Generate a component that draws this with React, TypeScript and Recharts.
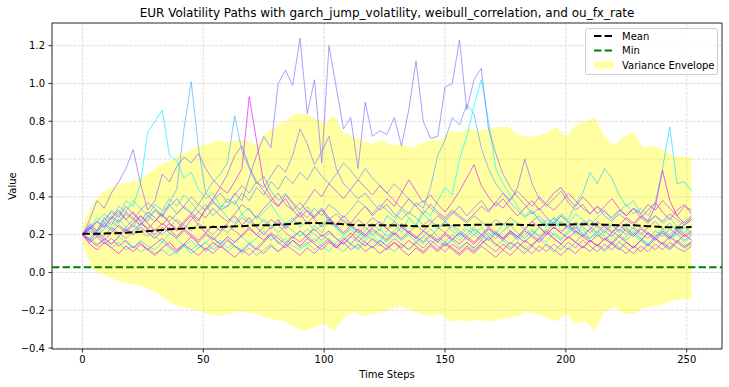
import React from 'react';
import {
  ComposedChart,
  Line,
  Area,
  XAxis,
  YAxis,
  CartesianGrid,
  ReferenceLine,
  ReferenceArea,
} from 'recharts';

// ---- axis ticks ----
const xTicks = [0, 50, 100, 150, 200, 250];
const yTicks = [-0.4, -0.2, 0, 0.2, 0.4, 0.6, 0.8, 1.0, 1.2];

// ---- simulated paths (sampled every 3 time steps, t = 0..252) ----
const path0 = [
  0.20,0.23,0.19,0.25,0.22,0.28,0.24,0.20,0.26,0.23,
  0.19,0.16,0.21,0.18,0.14,0.17,0.13,0.16,0.19,0.15,
  0.18,0.14,0.12,0.16,0.13,0.17,0.20,0.15,0.18,0.14,
  0.12,0.15,0.18,0.14,0.11,0.16,0.19,0.15,0.13,0.17,
  0.20,0.16,0.22,0.26,0.21,0.29,0.25,0.33,0.30,0.38,
  0.45,0.41,0.60,0.72,0.88,1.02,0.80,0.55,0.47,0.41,
  0.35,0.30,0.33,0.27,0.24,0.29,0.22,0.25,0.20,0.23,
  0.18,0.21,0.17,0.20,0.16,0.19,0.22,0.18,0.15,0.19,
  0.21,0.17,0.20,0.16,0.19,
];
const path1 = [
  0.20,0.24,0.29,0.26,0.33,0.30,0.38,0.35,0.47,0.74,
  0.80,0.86,0.62,0.59,0.50,0.53,0.44,0.39,0.42,0.35,
  0.35,0.38,0.31,0.34,0.28,0.32,0.36,0.30,0.26,0.29,
  0.24,0.27,0.22,0.25,0.29,0.23,0.20,0.24,0.21,0.18,
  0.22,0.19,0.16,0.20,0.17,0.21,0.18,0.15,0.19,0.16,
  0.14,0.18,0.21,0.17,0.20,0.24,0.19,0.22,0.18,0.21,
  0.17,0.20,0.23,0.19,0.16,0.21,0.18,0.22,0.25,0.20,
  0.23,0.19,0.22,0.26,0.21,0.24,0.20,0.17,0.21,0.19,
  0.23,0.20,0.24,0.21,0.25,
];
const path2 = [
  0.20,0.17,0.21,0.18,0.15,0.19,0.16,0.13,0.17,0.14,
  0.12,0.16,0.13,0.10,0.14,0.12,0.15,0.11,0.14,0.17,
  0.13,0.16,0.19,0.15,0.18,0.22,0.17,0.20,0.16,0.19,
  0.22,0.18,0.25,0.21,0.28,0.24,0.20,0.23,0.19,0.22,
  0.26,0.22,0.30,0.27,0.33,0.29,0.25,0.31,0.27,0.23,
  0.27,0.24,0.20,0.25,0.22,0.18,0.23,0.20,0.26,0.22,
  0.19,0.23,0.20,0.24,0.28,0.25,0.30,0.26,0.31,0.28,
  0.25,0.29,0.33,0.28,0.32,0.36,0.31,0.34,0.30,0.37,
  0.55,0.77,0.47,0.48,0.43,
];
const path3 = [
  0.20,0.23,0.27,0.31,0.28,0.35,0.32,0.38,0.34,0.30,
  0.36,0.33,0.39,0.35,0.41,0.37,0.32,0.36,0.30,0.34,
  0.29,0.26,0.31,0.27,0.24,0.28,0.25,0.21,0.25,0.22,
  0.19,0.23,0.20,0.17,0.21,0.18,0.15,0.19,0.16,0.20,
  0.17,0.14,0.18,0.21,0.17,0.20,0.16,0.19,0.23,0.19,
  0.16,0.20,0.17,0.21,0.24,0.20,0.17,0.21,0.18,0.15,
  0.19,0.16,0.20,0.24,0.21,0.27,0.31,0.28,0.36,0.42,
  0.53,0.47,0.55,0.50,0.41,0.35,0.38,0.31,0.27,0.30,
  0.26,0.29,0.24,0.27,0.30,
];
const path4 = [
  0.20,0.18,0.15,0.17,0.13,0.16,0.12,0.14,0.11,0.13,
  0.10,0.12,0.09,0.11,0.14,0.10,0.13,0.16,0.12,0.15,
  0.11,0.14,0.10,0.13,0.09,0.12,0.15,0.11,0.14,0.17,
  0.13,0.16,0.12,0.15,0.18,0.14,0.11,0.15,0.12,0.16,
  0.13,0.17,0.14,0.11,0.15,0.12,0.16,0.19,0.15,0.18,
  0.14,0.17,0.13,0.16,0.12,0.15,0.18,0.14,0.17,0.13,
  0.16,0.12,0.15,0.18,0.14,0.11,0.15,0.12,0.16,0.13,
  0.17,0.14,0.11,0.15,0.12,0.16,0.13,0.17,0.14,0.18,
  0.15,0.12,0.16,0.13,0.15,
];
const path5 = [
  0.20,0.26,0.22,0.29,0.25,0.32,0.28,0.24,0.30,0.27,
  0.33,0.29,0.37,0.44,0.76,1.01,0.66,0.42,0.48,0.52,
  0.58,0.83,0.64,0.55,0.47,0.51,0.43,0.38,0.42,0.36,
  0.31,0.35,0.29,0.33,0.27,0.24,0.28,0.25,0.21,0.24,
  0.20,0.23,0.19,0.22,0.26,0.21,0.18,0.22,0.19,0.23,
  0.27,0.22,0.19,0.23,0.20,0.17,0.21,0.18,0.22,0.25,
  0.21,0.18,0.22,0.19,0.23,0.20,0.17,0.21,0.24,0.20,
  0.18,0.22,0.19,0.16,0.20,0.17,0.21,0.18,0.15,0.19,
  0.22,0.18,0.21,0.17,0.20,
];
const path6 = [
  0.20,0.22,0.19,0.23,0.27,0.24,0.21,0.25,0.22,0.19,
  0.23,0.20,0.24,0.28,0.25,0.22,0.26,0.23,0.20,0.24,
  0.21,0.25,0.29,0.26,0.30,0.27,0.23,0.27,0.24,0.28,
  0.32,0.29,0.34,0.30,0.36,0.33,0.29,0.33,0.38,0.35,
  0.31,0.36,0.33,0.29,0.34,0.31,0.37,0.34,0.45,0.62,
  0.70,0.82,0.78,0.89,0.84,0.66,0.55,0.47,0.42,0.37,
  0.33,0.29,0.32,0.28,0.25,0.29,0.26,0.23,0.27,0.24,
  0.21,0.25,0.22,0.19,0.23,0.20,0.24,0.21,0.18,0.22,
  0.19,0.23,0.20,0.24,0.21,
];
const path7 = [
  0.20,0.18,0.22,0.26,0.23,0.20,0.24,0.28,0.25,0.29,
  0.33,0.30,0.27,0.31,0.35,0.32,0.28,0.33,0.37,0.34,
  0.39,0.36,0.42,0.38,0.45,0.41,0.48,0.44,0.51,0.47,
  0.53,0.49,0.56,0.51,0.47,0.52,0.58,0.54,0.49,0.55,
  0.50,0.46,0.42,0.47,0.43,0.39,0.35,0.38,0.34,0.31,
  0.28,0.32,0.29,0.26,0.30,0.27,0.24,0.28,0.25,0.29,
  0.26,0.23,0.27,0.30,0.26,0.23,0.27,0.24,0.21,0.25,
  0.28,0.24,0.21,0.25,0.22,0.26,0.23,0.20,0.24,0.27,
  0.23,0.26,0.22,0.25,0.28,
];
const path8 = [
  0.20,0.24,0.21,0.26,0.30,0.27,0.32,0.29,0.25,0.30,
  0.27,0.32,0.36,0.31,0.35,0.40,0.36,0.33,0.38,0.42,
  0.37,0.41,0.46,0.42,0.48,0.45,0.51,0.57,0.53,0.62,
  0.76,0.68,0.57,0.64,0.72,0.55,0.47,0.43,0.39,0.42,
  0.37,0.33,0.36,0.31,0.28,0.32,0.29,0.25,0.28,0.24,
  0.21,0.25,0.22,0.19,0.23,0.20,0.17,0.21,0.18,0.22,
  0.19,0.16,0.20,0.17,0.21,0.18,0.15,0.19,0.16,0.20,
  0.17,0.14,0.18,0.15,0.12,0.16,0.13,0.17,0.14,0.18,
  0.15,0.12,0.16,0.13,0.16,
];
const path9 = [
  0.20,0.23,0.27,0.24,0.29,0.26,0.31,0.28,0.33,0.37,
  0.34,0.30,0.35,0.39,0.34,0.31,0.36,0.42,0.38,0.33,
  0.35,0.42,0.38,0.50,0.62,0.72,0.66,1.00,1.07,0.99,
  1.24,0.84,1.02,0.58,1.20,0.98,0.76,0.82,0.55,0.90,
  0.72,0.75,0.73,0.82,0.67,0.86,1.12,0.80,0.71,0.72,
  0.98,1.00,1.23,0.86,1.02,1.08,0.76,0.63,0.52,0.45,
  0.40,0.36,0.31,0.34,0.29,0.26,0.30,0.27,0.23,0.27,
  0.24,0.21,0.25,0.22,0.19,0.23,0.20,0.24,0.21,0.18,
  0.22,0.19,0.23,0.20,0.22,
];
const path10 = [
  0.20,0.28,0.38,0.34,0.42,0.48,0.55,0.65,0.47,0.33,
  0.38,0.52,0.48,0.56,0.61,0.58,0.63,0.55,0.49,0.45,
  0.52,0.62,0.67,0.56,0.48,0.43,0.38,0.42,0.36,0.33,
  0.37,0.32,0.29,0.33,0.28,0.31,0.27,0.24,0.28,0.25,
  0.29,0.26,0.23,0.27,0.24,0.21,0.25,0.22,0.26,0.30,
  0.27,0.31,0.35,0.30,0.34,0.38,0.33,0.37,0.42,0.38,
  0.45,0.60,0.47,0.39,0.35,0.39,0.43,0.37,0.33,0.36,
  0.31,0.35,0.30,0.27,0.31,0.28,0.25,0.29,0.26,0.30,
  0.27,0.31,0.28,0.25,0.28,
];
const path11 = [
  0.20,0.17,0.21,0.19,0.24,0.21,0.18,0.22,0.26,0.23,
  0.20,0.24,0.21,0.18,0.22,0.19,0.16,0.20,0.17,0.21,
  0.25,0.22,0.19,0.23,0.20,0.24,0.28,0.25,0.21,0.18,
  0.22,0.19,0.16,0.20,0.17,0.14,0.18,0.15,0.19,0.16,
  0.13,0.17,0.14,0.18,0.15,0.12,0.16,0.13,0.17,0.14,
  0.11,0.15,0.12,0.16,0.13,0.17,0.14,0.11,0.15,0.12,
  0.16,0.13,0.10,0.14,0.11,0.15,0.12,0.16,0.13,0.17,
  0.14,0.11,0.15,0.12,0.16,0.13,0.10,0.14,0.11,0.15,
  0.12,0.16,0.13,0.11,0.14,
];
const path12 = [
  0.20,0.25,0.22,0.28,0.32,0.29,0.35,0.31,0.27,0.32,
  0.29,0.25,0.30,0.27,0.23,0.28,0.32,0.29,0.34,0.30,
  0.27,0.31,0.36,0.33,0.29,0.34,0.38,0.35,0.41,0.37,
  0.33,0.38,0.44,0.40,0.47,0.43,0.39,0.44,0.49,0.45,
  0.41,0.46,0.42,0.38,0.34,0.39,0.35,0.31,0.36,0.32,
  0.29,0.33,0.30,0.27,0.31,0.35,0.32,0.37,0.34,0.39,
  0.43,0.39,0.35,0.40,0.36,0.33,0.37,0.42,0.38,0.34,
  0.31,0.35,0.32,0.29,0.33,0.30,0.34,0.31,0.36,0.33,
  0.38,0.34,0.30,0.35,0.33,
];
const path13 = [
  0.20,0.16,0.19,0.15,0.18,0.14,0.17,0.13,0.16,0.12,
  0.15,0.18,0.14,0.11,0.15,0.12,0.09,0.13,0.10,0.14,
  0.11,0.08,0.12,0.09,0.13,0.10,0.14,0.11,0.15,0.12,
  0.09,0.13,0.10,0.14,0.17,0.13,0.16,0.12,0.15,0.11,
  0.14,0.10,0.13,0.16,0.12,0.09,0.13,0.10,0.14,0.11,
  0.15,0.12,0.09,0.13,0.10,0.14,0.11,0.08,0.12,0.09,
  0.13,0.10,0.14,0.11,0.15,0.12,0.09,0.13,0.10,0.14,
  0.11,0.15,0.12,0.16,0.13,0.10,0.14,0.11,0.15,0.12,
  0.16,0.13,0.17,0.14,0.16,
];
const path14 = [
  0.20,0.23,0.27,0.24,0.29,0.33,0.28,0.32,0.27,0.23,
  0.27,0.31,0.26,0.22,0.26,0.30,0.25,0.21,0.25,0.22,
  0.26,0.30,0.25,0.29,0.24,0.20,0.24,0.28,0.23,0.27,
  0.31,0.26,0.30,0.34,0.29,0.25,0.30,0.26,0.31,0.35,
  0.30,0.34,0.39,0.35,0.42,0.49,0.43,0.37,0.41,0.36,
  0.32,0.37,0.43,0.50,0.57,0.46,0.40,0.35,0.39,0.34,
  0.30,0.34,0.38,0.33,0.37,0.42,0.45,0.39,0.35,0.40,
  0.36,0.31,0.35,0.39,0.34,0.30,0.34,0.29,0.33,0.37,
  0.32,0.28,0.33,0.36,0.31,
];
const path15 = [
  0.20,0.17,0.14,0.18,0.15,0.19,0.23,0.20,0.24,0.21,
  0.18,0.22,0.26,0.23,0.27,0.31,0.27,0.34,0.39,0.45,
  0.42,0.48,0.55,0.93,0.70,0.47,0.40,0.35,0.39,0.33,
  0.29,0.33,0.28,0.24,0.28,0.25,0.21,0.25,0.22,0.19,
  0.23,0.20,0.17,0.21,0.18,0.22,0.19,0.16,0.20,0.17,
  0.21,0.18,0.15,0.19,0.16,0.20,0.24,0.21,0.18,0.22,
  0.19,0.23,0.27,0.24,0.20,0.24,0.21,0.18,0.22,0.19,
  0.16,0.20,0.17,0.21,0.25,0.22,0.19,0.23,0.20,0.17,
  0.21,0.18,0.22,0.19,0.21,
];
const path16 = [
  0.20,0.24,0.20,0.17,0.21,0.25,0.22,0.26,0.30,0.26,
  0.22,0.26,0.23,0.19,0.23,0.20,0.17,0.21,0.18,0.15,
  0.19,0.16,0.20,0.24,0.20,0.17,0.21,0.18,0.15,0.19,
  0.16,0.20,0.23,0.19,0.22,0.18,0.15,0.19,0.23,0.20,
  0.24,0.27,0.23,0.20,0.24,0.21,0.18,0.22,0.19,0.16,
  0.20,0.17,0.21,0.18,0.15,0.19,0.23,0.20,0.17,0.21,
  0.18,0.22,0.19,0.16,0.20,0.24,0.21,0.25,0.22,0.19,
  0.23,0.27,0.24,0.21,0.25,0.29,0.26,0.30,0.27,0.35,
  0.54,0.38,0.30,0.26,0.29,
];
const path17 = [
  0.20,0.15,0.12,0.16,0.13,0.10,0.14,0.11,0.15,0.12,
  0.09,0.13,0.16,0.12,0.15,0.19,0.15,0.12,0.16,0.13,
  0.17,0.14,0.11,0.15,0.12,0.16,0.20,0.16,0.13,0.17,
  0.14,0.18,0.15,0.12,0.16,0.13,0.17,0.21,0.17,0.14,
  0.18,0.15,0.12,0.16,0.13,0.17,0.14,0.11,0.15,0.12,
  0.16,0.13,0.10,0.14,0.11,0.15,0.19,0.15,0.12,0.16,
  0.13,0.17,0.14,0.18,0.22,0.18,0.15,0.19,0.16,0.13,
  0.17,0.14,0.18,0.15,0.19,0.16,0.13,0.17,0.21,0.18,
  0.15,0.19,0.16,0.20,0.17,
];
const paths = [
  path0, path1, path2, path3, path4, path5, path6, path7, path8,
  path9, path10, path11, path12, path13, path14, path15, path16, path17,
];

// ---- variance envelope (every 4 steps, t = 0..252) ----
const envUpper = [
  0.25,0.36,0.42,0.45,0.47,0.48,0.50,0.53,
  0.57,0.59,0.62,0.64,0.67,0.68,0.70,0.69,
  0.70,0.70,0.67,0.74,0.77,0.80,0.84,0.84,
  0.82,0.79,0.83,0.74,0.72,0.70,0.68,0.70,
  0.67,0.68,0.66,0.68,0.70,0.70,0.75,0.74,
  0.76,0.75,0.76,0.77,0.77,0.73,0.72,0.72,
  0.74,0.77,0.72,0.78,0.80,0.82,0.72,0.67,
  0.72,0.74,0.66,0.67,0.65,0.62,0.61,0.61,
];
const envLower = [
  0.15,0.02,-0.01,-0.03,-0.05,-0.06,-0.07,-0.09,
  -0.12,-0.16,-0.18,-0.19,-0.20,-0.22,-0.23,-0.22,
  -0.21,-0.21,-0.22,-0.24,-0.25,-0.26,-0.29,-0.31,
  -0.29,-0.27,-0.31,-0.24,-0.21,-0.23,-0.22,-0.21,
  -0.19,-0.18,-0.20,-0.22,-0.23,-0.22,-0.26,-0.25,
  -0.26,-0.25,-0.26,-0.25,-0.24,-0.23,-0.21,-0.22,
  -0.24,-0.26,-0.22,-0.27,-0.26,-0.31,-0.21,-0.18,
  -0.22,-0.22,-0.19,-0.18,-0.17,-0.15,-0.14,-0.14,
];

// ---- mean path (every 6 steps) and minimum value ----
const meanValues = [
  0.205,0.205,0.207,0.21,0.215,0.222,0.228,0.232,0.238,0.24,
  0.242,0.245,0.25,0.25,0.255,0.26,0.262,0.26,0.255,0.25,
  0.25,0.25,0.248,0.245,0.245,0.25,0.25,0.252,0.252,0.255,
  0.253,0.25,0.252,0.253,0.255,0.255,0.253,0.25,0.25,0.245,
  0.24,0.238,0.24,
];
const minValue = 0.027;

// ---- derived tables ----
const pathData = paths.map((vals) => vals.map((v, k) => ({ t: k * 3, v })));
const envData = envUpper.map((u, k) => ({ t: k * 4, range: [envLower[k], u] }));
const meanData = meanValues.map((v, k) => ({ t: k * 6, v }));

const coolColor = (i: number, n: number) => {
  const f = i / (n - 1);
  return `rgb(${Math.round(255 * f)},${Math.round(255 * (1 - f))},255)`;
};

const fmtY = (v: number) => (v < 0 ? '\u2212' + Math.abs(v).toFixed(1) : v.toFixed(1));

const FONT = 'DejaVu Sans, sans-serif';

export default function App() {
  return (
    <div style={{ position: 'absolute', left: 0, top: 0, width: 729, height: 387, background: '#fff', fontFamily: FONT }}>
      <ComposedChart width={729} height={387} margin={{ top: 23, right: 7, bottom: 0, left: 0 }}>
        <CartesianGrid stroke="#d4d4d4" strokeDasharray="3 1.3" strokeWidth={0.8} />
        <XAxis
          dataKey="t"
          type="number"
          domain={[-12.6, 264.6]}
          ticks={xTicks}
          allowDataOverflow
          height={38}
          tickSize={3.5}
          tickMargin={3.5}
          interval={0}
          axisLine={false}
          tickLine={{ stroke: '#000', strokeWidth: 0.8 }}
          tick={{ fontSize: 10, fill: '#000', fontFamily: FONT }}
        />
        <YAxis
          type="number"
          domain={[-0.405, 1.32]}
          ticks={yTicks}
          allowDataOverflow
          width={52}
          tickSize={3.5}
          tickMargin={3.5}
          interval={0}
          axisLine={false}
          tickLine={{ stroke: '#000', strokeWidth: 0.8 }}
          tick={{ fontSize: 10, fill: '#000', fontFamily: FONT }}
          tickFormatter={fmtY}
        />
        <Area
          data={envData}
          dataKey="range"
          type="linear"
          stroke="none"
          fill="#ffff00"
          fillOpacity={0.37}
          isAnimationActive={false}
        />
        {pathData.map((d, i) => (
          <Line
            key={i}
            data={d}
            dataKey="v"
            type="linear"
            dot={false}
            stroke={coolColor(i, paths.length)}
            strokeOpacity={0.7}
            strokeWidth={1}
            isAnimationActive={false}
          />
        ))}
        <Line
          data={meanData}
          dataKey="v"
          type="linear"
          dot={false}
          stroke="#000"
          strokeWidth={2}
          strokeDasharray="7.4 3.2"
          isAnimationActive={false}
        />
        <ReferenceLine y={minValue} stroke="#008000" strokeWidth={2} strokeDasharray="7.4 3.2" />
        <ReferenceArea x1={-12.6} x2={264.6} y1={-0.405} y2={1.32} fill="none" stroke="#000" strokeWidth={0.8} ifOverflow="visible" />
      </ComposedChart>
      <svg
        width={729}
        height={387}
        style={{ position: 'absolute', left: 0, top: 0, pointerEvents: 'none' }}
        fontFamily={FONT}
      >
        <text x={387} y={17} textAnchor="middle" fontSize={12} fill="#000">
          EUR Volatility Paths with garch_jump_volatility, weibull_correlation, and ou_fx_rate
        </text>
        <text x={387} y={378} textAnchor="middle" fontSize={10} fill="#000">
          Time Steps
        </text>
        <text transform="translate(16,186) rotate(-90)" textAnchor="middle" fontSize={10} fill="#000">
          Value
        </text>
        <rect x={585.5} y={28.5} width={132} height={46} rx={2} fill="#fff" fillOpacity={0.8} stroke="#cccccc" strokeWidth={1} />
        <line x1={594} x2={614} y1={36} y2={36} stroke="#000" strokeWidth={2} strokeDasharray="7.4 3.2" />
        <text x={622} y={39.6} fontSize={10} fill="#000">Mean</text>
        <line x1={594} x2={614} y1={50.5} y2={50.5} stroke="#008000" strokeWidth={2} strokeDasharray="7.4 3.2" />
        <text x={622} y={54.1} fontSize={10} fill="#000">Min</text>
        <rect x={594} y={61.5} width={20} height={7} fill="#ffff00" fillOpacity={0.37} />
        <text x={622} y={68.6} fontSize={10} fill="#000">Variance Envelope</text>
      </svg>
    </div>
  );
}
